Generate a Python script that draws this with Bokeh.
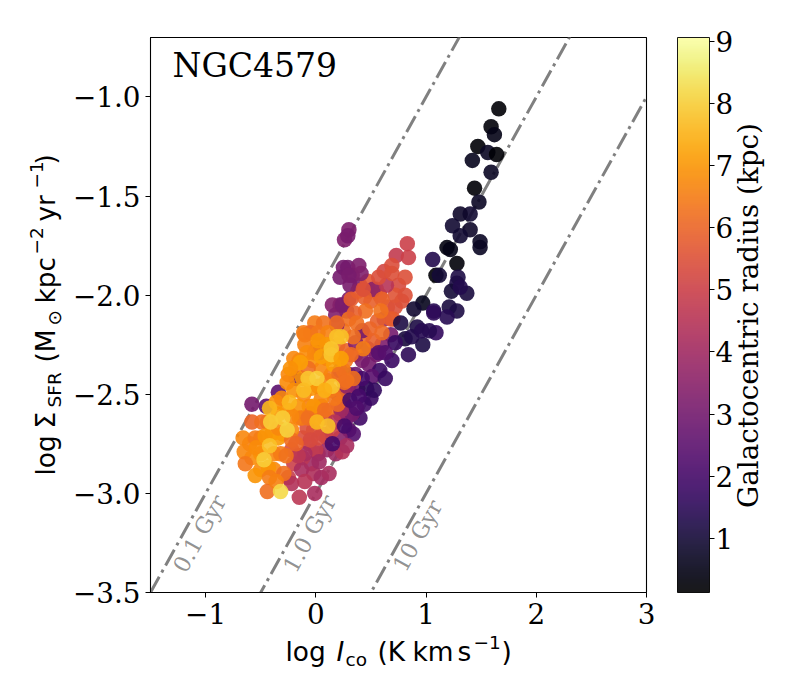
from math import pi, sin, cos
from bokeh.embed import file_html
from bokeh.resources import INLINE
from bokeh.plotting import figure
from bokeh.models import ColumnDataSource, LinearColorMapper, ColorBar, FixedTicker, Label
from bokeh.palettes import Inferno256

# values: log I_co (K km/s), log Sigma_SFR, radius (kpc)
back_ico = [0.62,0.68,0.60,0.55,0.47,0.30,0.22,0.28,0.48,0.40,0.33,0.15,0.18,
            0.20,0.26,0.30,0.36,0.44,0.30,0.34,0.40,0.28,0.50,0.22,0.10,0.02,-0.04,0.18,0.10,0.22,0.08,
            -0.20,-0.25,-0.12,-0.02,0.05,-0.06,-0.12,-0.22,0.00,0.06,0.15,-0.02,-0.45,-0.34,-0.18]
back_sfr = [-2.12,-2.20,-2.25,-2.30,-2.27,-2.02,-2.05,-2.08,-1.98,-1.95,-1.90,-2.05,-2.10,
            -2.50,-2.55,-2.40,-2.40,-2.55,-2.68,-2.70,-2.62,-2.62,-2.52,-2.72,-2.78,-2.80,-2.85,-2.80,-2.72,-2.60,-2.62,
            -2.85,-2.92,-2.82,-2.90,-2.92,-2.75,-2.72,-2.78,-2.78,-2.70,-2.68,-2.68,-2.56,-2.49,-2.42]
back_rad = [3.5,3.0,3.2,3.0,3.3,3.2,3.1,3.2,3.3,3.1,3.2,3.4,3.3,
            3.4,3.2,3.0,2.8,2.0,2.5,2.3,1.9,3.0,1.8,3.4,3.8,4.0,4.0,3.9,4.6,3.7,5.2,
            5.0,4.9,4.6,4.3,4.1,4.9,5.4,5.5,4.8,5.0,5.0,5.6,2.5,2.5,2.3]

mid_ico = [0.10,0.20,0.28,0.36,0.44,0.52,0.56,0.65,0.72,0.50,0.38,0.30,0.25,0.55,0.75,0.62,0.47,0.78,0.58,0.70,
           -0.40,-0.50,-0.60,-0.58,-0.50,-0.38,-0.32,-0.50,-0.38,-0.30,-0.22,-0.34,-0.44,-0.36,-0.26,-0.20,-0.26,-0.18,-0.12,-0.04,
           0.02,0.10,0.14,0.10,-0.03,-0.20,-0.10,0.02,0.05,0.12,0.25,0.30,0.13,-0.06,-0.15,-0.05,0.00,0.20,0.27]
mid_sfr = [-2.25,-2.25,-2.28,-2.30,-2.20,-2.23,-2.13,-2.06,-2.06,-2.03,-1.98,-2.12,-2.18,-1.97,-1.95,-1.88,-1.93,-2.03,-2.00,-2.12,
           -2.70,-2.72,-2.75,-2.82,-2.80,-2.80,-2.80,-2.88,-2.88,-2.70,-2.68,-2.60,-2.64,-2.54,-2.58,-2.48,-2.44,-2.36,-2.42,-2.47,
           -2.46,-2.43,-2.40,-2.32,-2.33,-2.32,-2.25,-2.25,-2.56,-2.58,-2.50,-2.46,-2.48,-2.56,-2.62,-2.60,-2.62,-2.32,-2.33]
mid_rad = [6.3,6.2,6.0,6.2,6.1,5.9,5.9,5.6,5.5,5.9,5.7,6.2,6.3,5.6,5.3,5.2,5.7,5.5,5.8,5.7,
           6.9,6.7,6.6,6.8,6.9,6.7,6.5,6.8,6.7,6.9,6.7,7.1,6.8,6.9,7.0,6.9,6.8,6.6,6.9,7.0,
           6.9,6.7,6.5,6.7,6.9,6.7,6.6,6.6,6.5,6.3,6.1,6.0,6.8,6.6,6.7,6.3,6.2,6.5,6.4]

log_ico = [
 0.30,0.26,0.29,0.22,0.25,0.31,0.29,0.39,0.41,0.30,0.19,0.03,0.24,0.36,0.42,0.48,0.38,0.33,0.28,0.22,0.42,
 0.52,0.72,0.81,0.64,0.83,0.73,0.84,0.69,0.57,0.69,0.81,0.60,0.44,0.32,0.43,0.68,
 -0.22,-0.15,-0.01,-0.13,-0.10,0.03,0.12,0.24,0.28,0.23,0.17,-0.10,-0.16,0.02,-0.08,-0.05,
 1.66,1.59,1.62,1.47,1.56,1.64,1.42,1.59,1.44,1.48,1.40,1.31,1.24,1.40,1.31,1.49,1.49,1.19,1.22,1.06,1.28,1.09,1.12,1.29,1.28,1.23,1.37,1.31,1.21,1.28,0.97,1.07,0.89,
 1.07,1.19,1.09,1.03,0.92,0.97,0.84,0.81,0.77,0.72,0.87,0.96,0.69,0.63,0.57,0.58,0.51,0.46,0.42,0.53,0.63,
 0.45,0.59,0.35,0.37,0.49,0.60,0.34,0.43,0.32,0.25,0.34,0.28,
 -0.01,0.07,-0.11,-0.05,-0.10,0.19,0.02,0.11,-0.08,-0.15,-0.01,0.05,-0.07,0.16,0.21,0.26,0.20,0.17,0.05,-0.02,-0.11,-0.16,-0.25,-0.31,
 -0.58,-0.49,-0.66,-0.55,-0.65,-0.54,-0.64,-0.55,-0.43,-0.42,-0.44,-0.29,-0.36,-0.27,-0.34,-0.46,
 -0.13,-0.22,-0.34,-0.07,0.08,-0.22,-0.18,0.10,0.02,
 -0.14,0.05,0.23,0.19,0.14,0.14,-0.23,0.23,
 -0.07,0.01,0.15,-0.11,0.08,-0.24,-0.42,-0.41,-0.30,-0.26,0.01,0.11,-0.42,-0.47,-0.32,
 -0.58,0.15,0.26,0.31,0.39,0.37,
]
log_sfr = [
 -1.67,-1.72,-1.70,-1.91,-1.86,-1.95,-1.86,-1.85,-1.89,-1.90,-2.15,-2.29,-2.05,-2.24,-2.33,-2.35,-2.47,-2.60,-2.46,-2.38,-2.18,
 -1.97,-2.00,-2.00,-1.95,-1.74,-1.80,-1.81,-1.85,-1.91,-1.89,-1.91,-2.02,-2.01,-2.02,-1.97,-2.12,
 -2.95,-3.02,-3.00,-2.88,-2.94,-2.84,-2.90,-2.79,-2.76,-2.58,-2.64,-2.80,-2.81,-2.72,-2.67,-2.73,
 -1.06,-1.15,-1.19,-1.25,-1.28,-1.29,-1.32,-1.38,-1.46,-1.53,-1.59,-1.59,-1.65,-1.67,-1.70,-1.73,-1.76,-1.76,-1.77,-1.82,-1.84,-1.90,-1.90,-1.91,-1.94,-1.98,-1.99,-1.96,-2.06,-2.08,-2.04,-2.08,-2.07,
 -2.09,-2.11,-2.19,-2.18,-2.16,-2.25,-2.30,-2.22,-2.14,-2.24,-2.21,-2.18,-2.33,-2.29,-2.29,-2.38,-2.41,-2.47,-2.42,-2.48,-2.42,
 -2.08,-2.08,-2.09,-2.14,-2.17,-2.19,-2.21,-2.27,-2.30,-2.38,-2.42,-2.43,
 -2.14,-2.14,-2.19,-2.19,-2.20,-2.14,-2.19,-2.19,-2.29,-2.33,-2.29,-2.37,-2.37,-2.35,-2.40,-2.44,-2.55,-2.52,-2.52,-2.56,-2.50,-2.56,-2.40,-2.52,
 -2.64,-2.64,-2.72,-2.72,-2.79,-2.77,-2.85,-2.91,-2.87,-2.92,-2.99,-2.90,-2.94,-2.81,-2.72,-2.71,
 -2.62,-2.61,-2.67,-2.62,-2.58,-2.73,-2.75,-2.25,-2.23,
 -2.34,-2.31,-2.21,-2.21,-2.27,-2.30,-2.37,-2.32,
 -2.42,-2.42,-2.46,-2.48,-2.48,-2.54,-2.57,-2.64,-2.62,-2.68,-2.64,-2.66,-2.76,-2.83,-2.99,
 -2.55,-2.75,-2.66,-2.53,-2.51,-2.57,
]
radius = [
 3.2,3.3,3.1,3.0,3.0,3.1,3.0,3.2,3.3,3.1,3.4,3.8,3.1,3.4,3.2,3.0,3.0,3.0,3.6,4.0,3.0,
 3.5,5.6,5.5,4.5,5.0,4.8,5.0,5.4,5.4,5.5,5.5,5.9,5.9,5.8,5.5,5.8,
 4.4,4.6,4.2,4.2,4.5,4.0,4.2,4.4,4.2,4.0,4.5,4.2,4.6,5.3,5.5,5.3,
 0.2,0.3,0.5,0.2,0.7,0.2,0.6,0.7,0.2,0.7,0.9,0.8,0.9,0.8,0.9,0.7,0.7,0.4,0.5,1.3,0.3,0.2,1.0,1.2,1.2,1.0,1.1,1.3,1.1,1.2,0.6,1.4,0.9,
 1.5,1.4,1.6,1.4,1.2,1.2,1.5,1.1,1.2,1.7,1.3,1.4,1.8,2.2,2.4,1.8,2.5,1.5,2.0,1.6,1.7,
 6.2,6.3,5.9,6.2,6.0,6.1,6.2,6.5,6.1,6.5,6.2,6.3,
 6.5,6.3,6.5,6.1,6.5,6.1,6.4,6.6,6.8,6.7,6.7,6.7,6.2,7.2,6.2,6.2,6.1,6.4,6.7,7.0,6.7,6.9,6.7,6.7,
 6.0,6.2,6.7,6.5,6.7,6.8,6.4,7.0,7.0,6.5,6.2,6.2,6.6,6.3,7.1,7.0,
 6.5,6.7,6.7,6.2,6.2,6.2,6.0,7.1,7.0,
 7.2,7.2,7.8,7.8,7.9,7.9,6.9,7.2,
 7.9,8.0,7.9,7.7,7.5,7.6,7.6,8.0,8.0,8.1,7.6,7.8,7.8,8.0,8.2,
 3.0,2.0,2.0,2.0,2.0,2.2,
]
x_ticks = [-1, 0, 1, 2, 3]
x_tick_labels = ["\u22121", "0", "1", "2", "3"]
y_ticks = [-3.5, -3.0, -2.5, -2.0, -1.5, -1.0]
y_tick_labels = ["\u22123.5", "\u22123.0", "\u22122.5", "\u22122.0", "\u22121.5", "\u22121.0"]
cb_ticks = [1, 2, 3, 4, 5, 6, 7, 8, 9]
line_x = [-1.5, 3.0]
line_01 = [-3.5, 1.0]
line_10 = [-4.5, 0.0]
line_100 = [-5.5, -1.0]

SERIF = "DejaVu Serif"
SANS = "DejaVu Sans"

p = figure(width=790, height=690, x_range=(-1.5, 3.0), y_range=(-3.5, -0.7),
           output_backend="svg", toolbar_location=None, min_border_left=150,
           min_border_top=37, min_border_bottom=98, min_border_right=144,
           frame_width=496, frame_height=555)
p.grid.visible = False
p.outline_line_color = "black"
p.outline_line_width = 1.1

for ax, ticks, labels in ((p.xaxis[0], x_ticks, x_tick_labels), (p.yaxis[0], y_ticks, y_tick_labels)):
    ax.ticker = FixedTicker(ticks=ticks)
    ax.major_label_overrides = dict(zip(ticks, labels))
    ax.major_label_text_font = SERIF
    ax.major_label_text_font_size = "27.8px"
    ax.major_label_text_color = "black"
    ax.major_tick_in = 0
    ax.major_tick_out = 5
    ax.minor_tick_line_color = None
    ax.axis_line_color = "black"
    ax.major_tick_line_color = "black"
    ax.major_label_standoff = 5

for ys in (line_01, line_10, line_100):
    p.line(line_x, ys, line_color="gray", line_width=3, line_dash="18 5 3 5")

mapper = LinearColorMapper(palette=Inferno256, low=0.13, high=9.06)
for xs, ys, rs in ((back_ico, back_sfr, back_rad), (mid_ico, mid_sfr, mid_rad), (log_ico, log_sfr, radius)):
    src = ColumnDataSource(dict(x=xs, y=ys, r=rs))
    p.scatter("x", "y", source=src, size=15.5, line_color=None,
              fill_color={"field": "r", "transform": mapper}, fill_alpha=0.9)

cb = ColorBar(color_mapper=mapper, ticker=FixedTicker(ticks=cb_ticks), width=32, height=555,
              padding=0, margin=0, scale_alpha=0.9, bar_line_color="black",
              major_tick_line_color="black", major_tick_in=0, major_tick_out=5,
              major_label_text_font=SERIF, major_label_text_font_size="27.8px",
              major_label_text_color="black", label_standoff=1, location=(31, 0))
p.add_layout(cb, "right")

def put(px, py, text, font=SANS, size=26.4, angle=0.0, style="normal", align="left", base="alphabetic", color="black", alpha=1.0, side="below"):
    # Bokeh draws an "alphabetic" box lower than the true baseline: pull it back across the text's direction
    if base == "alphabetic":
        shift = 0.36 * size
        px -= shift * sin(angle)
        py -= shift * cos(angle)
    p.add_layout(Label(x=px, y=py, x_units="canvas", y_units="canvas", text=text,
                       text_font=font, text_font_size=f"{size}px", angle=angle, text_align=align,
                       text_baseline=base, text_font_style=style, text_color=color, text_alpha=alpha), side)

GYR = dict(font=SERIF, size=22.5, angle=61*pi/180, align="center", base="middle", color="gray", alpha=0.85, side="center")
put(172, 77, "NGC4579", font=SERIF, size=33, side="center")
put(199, 533, "0.1 Gyr", **GYR)
put(309, 533, "1.0 Gyr", **GYR)
put(417, 535, "10 Gyr", **GYR)

# x label pieces
put(285, 661, "log")
put(336, 661, "I", style="italic")
put(345, 666, "co", size=18.5)
put(377, 661, "(K")
put(412, 661, "km")
put(457, 661, "s")
put(473, 649, "\u22121", size=18.5)
put(501, 661, ")")

# y label pieces
V = pi / 2
put(55, 475, "log", angle=V)
put(55, 428, "\u03a3", angle=V)
put(61, 407, "SFR", size=18.5, angle=V)
put(55, 362, "(M", angle=V)
put(61, 325, "\u2299", size=18.5, angle=V)
put(55, 303, "kpc", angle=V)
put(43, 254, "\u22122", size=18.5, angle=V)
put(55, 221, "yr", angle=V)
put(43, 188, "\u22121", size=18.5, angle=V)
put(55, 164, ")", angle=V)

put(758, 315, "Galactocentric radius (kpc)", font=SERIF, size=27.8, angle=V, align="center")

open("out.html", "w").write(file_html(p, INLINE))
